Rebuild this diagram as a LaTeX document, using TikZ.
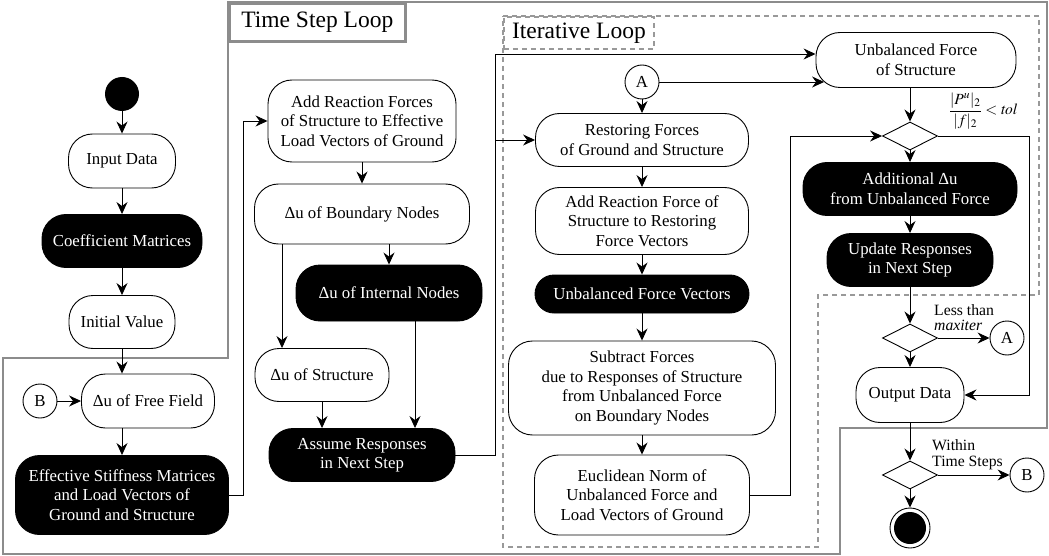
\documentclass[tikz,border=0pt]{standalone}
\usepackage{mathptmx}
\usepackage{fontspec}
\setmainfont{Liberation Serif}
\usetikzlibrary{arrows.meta,shapes.geometric}

\begin{document}
\begin{tikzpicture}[x=1pt, y=-1pt,
  every node/.style={font=\fontsize{16.8}{19.5}\selectfont},
  flow/.style={draw, line width=0.9pt, fill=white, rounded corners=24pt, align=center, inner sep=0pt},
  dark/.style={flow, fill=black, text=white},
  conn/.style={circle, draw, line width=0.9pt, fill=white, minimum size=34pt, inner sep=0pt},
  decision/.style={diamond, draw, line width=0.9pt, fill=white, minimum width=55pt, minimum height=28pt, inner sep=0pt},
  arr/.style={line width=0.9pt, -{Stealth[length=12pt, width=11pt, inset=4pt]}},
  stepframe/.style={draw=black!45, line width=2.6pt},
  iterframe/.style={draw=black!40, line width=1.8pt, dash pattern=on 5pt off 4pt},
  cond/.style={font=\fontsize{15.7}{15.5}\selectfont, align=left, inner sep=0pt},
  framelabel/.style={font=\fontsize{23.5}{26}\selectfont, fill=white, inner sep=0pt, anchor=north west}]
\useasboundingbox (0,0) rectangle (1049,556);
\draw[stepframe] (228,2) -- (1047,2) -- (1047,428) -- (840,428) -- (840,554) -- (3,554) -- (3,358) -- (228,358) -- cycle;
\draw[iterframe] (503,16) -- (1039,16) -- (1039,295) -- (818,295) -- (818,547) -- (503,547) -- cycle;
\node[framelabel, draw=black!45, line width=2.6pt, minimum width=176pt, minimum height=38pt] (tsl) at (228,2) {Time Step Loop};
\node[framelabel, draw=black!40, line width=1.8pt, dash pattern=on 5pt off 4pt, minimum width=150pt, minimum height=32pt] (itl) at (503,16) {Iterative Loop};

\node[circle, fill=black, minimum size=34pt, inner sep=0pt] (start) at (122,94) {};
\node[flow, minimum width=107pt, minimum height=54pt] (input) at (122,161) {Input Data};
\node[dark, minimum width=160pt, minimum height=53pt] (coef) at (122,241) {Coefficient Matrices};
\node[flow, minimum width=106pt, minimum height=53pt] (init) at (122,322) {Initial Value};
\node[flow, minimum width=133pt, minimum height=54pt] (free) at (148,401) {Δu of Free Field};
\node[conn] (B) at (40,401) {B};
\node[dark, minimum width=213pt, minimum height=79pt] (eff) at (122,495) {Effective Stiffness Matrices\\and Load Vectors of\\Ground and Structure};

\node[flow, minimum width=188pt, minimum height=82pt] (addreac) at (362,121) {Add Reaction Forces\\of Structure to Effective\\Load Vectors of Ground};
\node[flow, minimum width=215pt, minimum height=60pt] (bound) at (362,214) {Δu of Boundary Nodes};
\node[dark, minimum width=186pt, minimum height=56pt] (internal) at (389,293) {Δu of Internal Nodes};
\node[flow, minimum width=134pt, minimum height=53pt] (struct) at (322,375) {Δu of Structure};
\node[dark, minimum width=186pt, minimum height=53pt] (assume) at (362,455) {Assume Responses\\in Next Step};

\node[conn] (A) at (642,82) {A};
\node[flow, minimum width=213pt, minimum height=53pt] (restore) at (642,140) {Restoring Forces\\of Ground and Structure};
\node[flow, minimum width=213pt, minimum height=67pt] (addforce) at (642,221) {Add Reaction Force of\\Structure to Restoring\\Force Vectors};
\node[dark, rounded corners=19pt, minimum width=214pt, minimum height=38pt] (ubv) at (642,294) {Unbalanced Force Vectors};
\node[flow, minimum width=267pt, minimum height=94pt] (subtract) at (642,388) {Subtract Forces\\due to Responses of Structure\\from Unbalanced Force\\on Boundary Nodes};
\node[flow, minimum width=215pt, minimum height=80pt] (euclid) at (642,495) {Euclidean Norm of\\Unbalanced Force and\\Load Vectors of Ground};

\node[flow, minimum width=200pt, minimum height=55pt] (ufs) at (916,60) {Unbalanced Force\\of Structure};
\node[decision] (conv) at (910,136) {};
\node[inner sep=0pt, font=\fontsize{15.5}{17}\selectfont] (tol) at (983,111) {$\displaystyle\frac{|P^u|_2}{|f|_2}<\mathit{tol}$};
\node[dark, minimum width=214pt, minimum height=53pt] (addu) at (910,189) {Additional Δu\\from Unbalanced Force};
\node[dark, minimum width=166pt, minimum height=53pt] (update) at (910,260) {Update Responses\\in Next Step};
\node[decision] (iterchk) at (910,338) {};
\node[conn] (A2) at (1007,338) {A};
\node[cond, anchor=south west] (maxlbl) at (934,331) {Less than\\\textit{maxiter}};
\node[flow, minimum width=108pt, minimum height=55pt] (output) at (910,395) {Output Data};
\node[decision] (stepchk) at (910,475) {};
\node[conn] (B2) at (1027,475) {B};
\node[cond, anchor=south west] (steplbl) at (932,470) {Within\\Time Steps};
\node[circle, draw, line width=0.9pt, minimum size=40pt, inner sep=0pt, path picture={\fill[black] (path picture bounding box.center) circle (16pt);}] (stop) at (910,528) {};

\draw[arr] (start) -- (input);
\draw[arr] (input) -- (coef);
\draw[arr] (coef) -- (init);
\draw[arr] (init.south) -- (init.south |- free.north);
\draw[arr] (B) -- (free);
\draw[arr] (free.south -| eff) -- (eff);
\draw[arr] (eff.east) -- ++(14,0) |- (addreac.west);
\draw[arr] (addreac) -- (bound);
\draw[arr] (bound.south -| internal) -- (internal);
\draw[arr] ([xshift=-80pt]bound.south) -- ([xshift=-80pt]bound.south |- struct.north);
\draw[arr] (struct) -- (struct |- assume.north);
\draw[arr] ([xshift=26pt]internal.south) -- ([xshift=26pt]internal.south |- assume.north);
\coordinate (bus) at (495,54);
\draw[arr] (assume.east) -| (bus) -- (bus -| ufs.west);
\draw[arr] (bus |- restore) -- (restore);
\draw[arr] (A) -- ([xshift=8.5pt]A -| ufs.west);
\draw[arr] (A) -- (restore);
\draw[arr] (restore) -- (addforce);
\draw[arr] (addforce) -- (ubv);
\draw[arr] (ubv) -- (subtract);
\draw[arr] (subtract) -- (euclid);
\draw[arr] (euclid.east) -- ++(40,0) |- (conv.west);
\draw[arr] (ufs.south -| conv) -- (conv);
\draw[arr] (conv) -- (addu);
\draw[arr] (addu) -- (update);
\draw[arr] (update) -- (iterchk);
\draw[arr] (iterchk) -- (output);
\draw[arr] (output) -- (stepchk);
\draw[arr] (stepchk) -- (stop);
\draw[arr] (iterchk) -- (A2);
\draw[arr] (stepchk) -- (B2);
\coordinate (bypass) at (1029,136);
\draw[arr] (conv.east) -- (bypass) |- (output.east);
\end{tikzpicture}
\end{document}
